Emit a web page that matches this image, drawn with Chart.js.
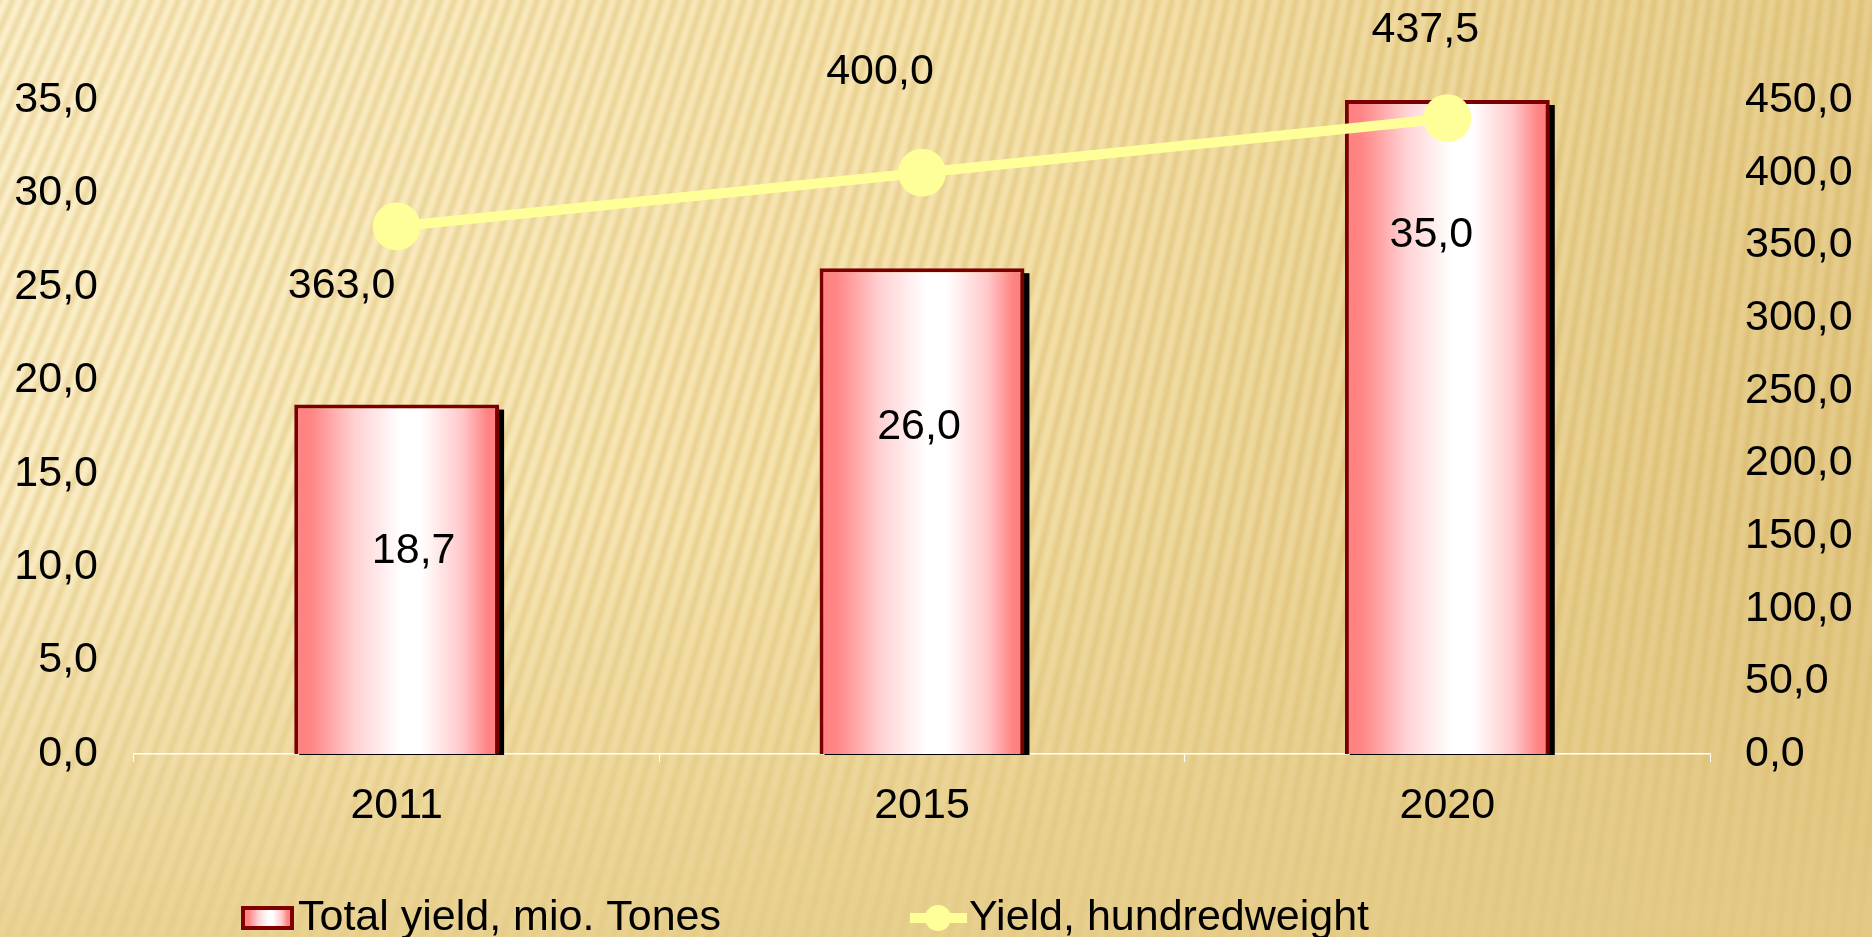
<!DOCTYPE html>
<html lang="en">
<head>
  <meta charset="UTF-8" />
  <title>Yield chart</title>
  <script src="https://cdn.jsdelivr.net/npm/chart.js"></script>
  <style>
    body { margin: 0; background: #f3e0a6; }
    #wrap { width: 1872px; height: 937px; }
  </style>
</head>
<body>
  <div id="wrap"><canvas id="yieldChart" width="1872" height="937"></canvas></div>

  <script>
    const years = ["2011", "2015", "2020"];
    const totalYield = [18.7, 26.0, 35.0];       // mio. tones, left axis
    const yieldPerHa = [363.0, 400.0, 437.5];    // hundredweight, right axis
    const leftTicks = { min: 0, max: 35, step: 5 };
    const rightTicks = { min: 0, max: 450, step: 50 };

    // label nudges (pixels) - the original labels were dragged by hand
    const barLabelNudge = [[17, 147], [-3, 159], [-16, 135]];
    const lineLabelNudge = [[-55, 60], [-42, -101], [-22, -88]];

    const FONT = "'Liberation Sans', Arial, sans-serif";
    const FSIZE = 43;
    const BAR_PCT = 0.39;
    const fmt = v => Number(v).toFixed(1).replace(".", ",");

    function pinkGradient(ctx, x0, x1) {
      const g = ctx.createLinearGradient(x0, 0, x1, 0);
      g.addColorStop(0, "#ff8080");
      g.addColorStop(0.08, "#ff8585");
      g.addColorStop(0.3, "#ffd2d4");
      g.addColorStop(0.52, "#ffffff");
      g.addColorStop(0.62, "#ffffff");
      g.addColorStop(0.82, "#ffc8ca");
      g.addColorStop(0.95, "#ff8080");
      g.addColorStop(1, "#ff8080");
      return g;
    }

    const background = {
      id: "background",
      beforeDraw(chart) {
        const { ctx, width, height } = chart;
        ctx.save();
        const g = ctx.createLinearGradient(0, 0, width, height);
        g.addColorStop(0, "#fdf2cf");
        g.addColorStop(0.45, "#f6e4ae");
        g.addColorStop(1, "#e0c47f");
        ctx.fillStyle = g;
        ctx.fillRect(0, 0, width, height);
        // fan of soft stripes
        ctx.filter = "blur(2px)";
        ctx.strokeStyle = "rgba(200,158,65,0.36)";
        ctx.lineWidth = 5;
        const fx = 2600, fy = -6000;
        for (let xb = -1200; xb < 2300; xb += 16) {
          ctx.beginPath();
          ctx.moveTo(xb, height + 20);
          ctx.lineTo(fx, fy);
          ctx.stroke();
        }
        ctx.filter = "none";
        // fade stripes toward the bottom
        const f = ctx.createLinearGradient(0, height * 0.55, 0, height);
        f.addColorStop(0, "rgba(228,203,135,0)");
        f.addColorStop(1, "rgba(228,203,135,0.75)");
        ctx.fillStyle = f;
        ctx.fillRect(0, 0, width, height);
        ctx.restore();
      }
    };

    const barShadow = {
      id: "barShadow",
      beforeDatasetDraw(chart, args) {
        if (chart.data.datasets[args.index].type !== "bar") return;
        const ctx = chart.ctx;
        ctx.save();
        ctx.fillStyle = "#000";
        args.meta.data.forEach(el => {
          const { x, y, base, width } = el.getProps(["x", "y", "base", "width"], true);
          ctx.fillRect(x - width / 2 + 5, y + 5, width, base - y - 4);
        });
        ctx.restore();
      }
    };

    const valueLabels = {
      id: "valueLabels",
      afterDatasetsDraw(chart) {
        const ctx = chart.ctx;
        ctx.save();
        ctx.font = FSIZE + "px " + FONT;
        ctx.fillStyle = "#000";
        ctx.textAlign = "center";
        ctx.textBaseline = "middle";
        chart.data.datasets.forEach((ds, di) => {
          const nudge = ds.type === "bar" ? barLabelNudge : lineLabelNudge;
          chart.getDatasetMeta(di).data.forEach((el, i) => {
            ctx.fillText(fmt(ds.data[i]), el.x + nudge[i][0], el.y + nudge[i][1]);
          });
        });
        ctx.restore();
      }
    };

    const legendBox = {
      id: "legendBox",
      afterDraw(chart) {
        const ctx = chart.ctx;
        const y = 918;
        ctx.save();
        // bar key
        ctx.fillStyle = "#800000";
        ctx.fillRect(241, y - 12, 53, 24);
        ctx.fillStyle = pinkGradient(ctx, 245, 290);
        ctx.fillRect(245, y - 8, 45, 16);
        // line key
        ctx.strokeStyle = "#ffff99";
        ctx.lineWidth = 10;
        ctx.beginPath();
        ctx.moveTo(910, y);
        ctx.lineTo(967, y);
        ctx.stroke();
        ctx.fillStyle = "#ffff99";
        ctx.beginPath();
        ctx.arc(938, y, 13, 0, Math.PI * 2);
        ctx.fill();
        ctx.font = FSIZE + "px " + FONT;
        ctx.fillStyle = "#000";
        ctx.textBaseline = "middle";
        ctx.fillText(chart.data.datasets[0].label, 298, y);
        ctx.fillText(chart.data.datasets[1].label, 969, y);
        ctx.restore();
      }
    };

    new Chart(document.getElementById("yieldChart"), {
      data: {
        labels: years,
        datasets: [
          {
            type: "bar",
            label: "Total yield, mio. Tones",
            data: totalYield,
            yAxisID: "y",
            order: 1,
            barPercentage: BAR_PCT,
            categoryPercentage: 1,
            borderColor: "#7a0000",
            borderWidth: 4,
            backgroundColor: c => {
              const xs = c.chart.scales.x;
              if (!xs) return "#ff8080";
              const cx = xs.getPixelForValue(c.dataIndex);
              const w = (xs.getPixelForValue(1) - xs.getPixelForValue(0)) * BAR_PCT;
              if (!isFinite(cx) || !isFinite(w)) return "#ff8080";
              return pinkGradient(c.chart.ctx, cx - w / 2, cx + w / 2);
            }
          },
          {
            type: "line",
            label: "Yield, hundredweight",
            data: yieldPerHa,
            yAxisID: "y1",
            order: 0,
            clip: false,
            borderColor: "#ffff99",
            borderWidth: 10,
            pointRadius: 24,
            pointBackgroundColor: "#ffff99",
            pointBorderWidth: 0
          }
        ]
      },
      options: {
        responsive: false,
        animation: false,
        layout: { padding: { top: 100, left: 0, right: 0, bottom: 0 } },
        plugins: { legend: { display: false }, tooltip: { enabled: false } },
        scales: {
          x: {
            grid: { offset: true, drawOnChartArea: false, color: "#ffffff", tickLength: 8 },
            border: { color: "#ffffff", width: 1.5 },
            ticks: { color: "#000", padding: 18, font: { family: FONT, size: FSIZE } },
            afterFit: s => { s.height = 183; }
          },
          y: {
            position: "left",
            min: leftTicks.min,
            max: leftTicks.max,
            grid: { display: false, drawTicks: false },
            border: { display: false },
            ticks: { stepSize: leftTicks.step, padding: 36, color: "#000",
                     font: { family: FONT, size: FSIZE }, callback: fmt },
            afterFit: s => { s.width = 134; }
          },
          y1: {
            position: "right",
            min: rightTicks.min,
            max: rightTicks.max,
            grid: { display: false, drawTicks: false },
            border: { display: false },
            ticks: { stepSize: rightTicks.step, padding: 35, color: "#000",
                     font: { family: FONT, size: FSIZE }, callback: fmt },
            afterFit: s => { s.width = 162; }
          }
        }
      },
      plugins: [background, barShadow, valueLabels, legendBox]
    });
  </script>
</body>
</html>
